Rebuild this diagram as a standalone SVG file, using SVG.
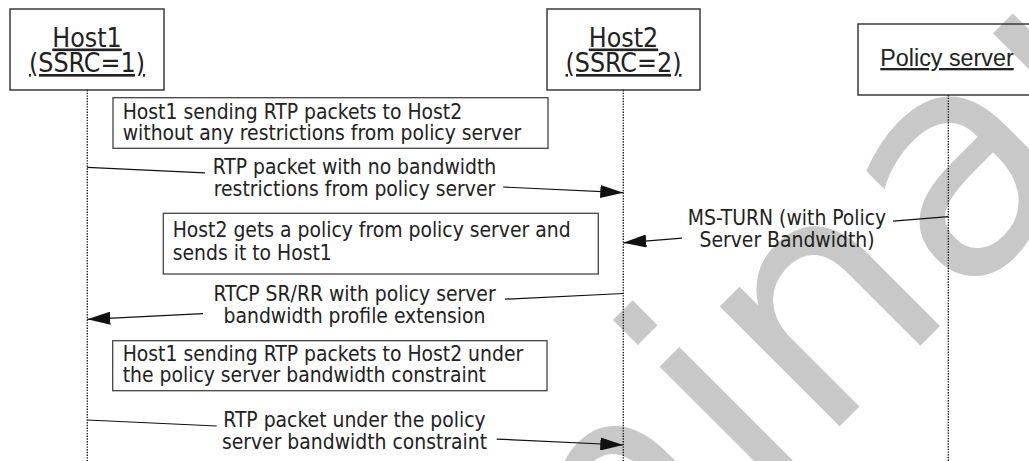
<svg xmlns="http://www.w3.org/2000/svg" width="1029" height="461" viewBox="0 0 1029 461">
<style>
.wm{font-family:"DejaVu Sans",sans-serif;font-size:310px;fill:#c8c8c8}
.box{fill:none;stroke:#3a3a3a;stroke-width:1.5}
.note{fill:none;stroke:#444;stroke-width:1.3}
.life{fill:none;stroke:#222;stroke-width:1.4;stroke-dasharray:1.4 1.3}
.msg{fill:none;stroke:#111;stroke-width:1.2}
.t{font-family:"DejaVu Sans Condensed","DejaVu Sans",sans-serif;font-stretch:condensed;font-size:20.9px;fill:#222}
.h{font-size:26.5px;text-decoration:underline}
.ps{font-family:"Liberation Sans",Arial,sans-serif;font-size:23.3px;fill:#222;text-decoration:underline}
.m{text-anchor:middle}
</style>
<defs>
<marker id="ah" markerUnits="userSpaceOnUse" markerWidth="23" markerHeight="13" refX="23" refY="6.5" orient="auto">
<path d="M0,0 L23,6.5 L0,13 z" fill="#111"/>
</marker>
</defs>
<rect width="1029" height="461" fill="#fff"/>
<text class="wm" transform="translate(75,1191) rotate(-45)">Preliminary</text>

<g id="host1">
<rect class="box" x="10" y="9" width="154" height="81"/>
<text class="t h m" x="87" y="46.5">Host1</text>
<text class="t h m" x="87" y="72">(SSRC=1)</text>
<line class="life" x1="87.3" y1="90" x2="87.3" y2="461"/>
</g>
<g id="host2">
<rect class="box" x="547" y="9" width="153" height="81"/>
<text class="t h m" x="623.5" y="46.5">Host2</text>
<text class="t h m" x="623.5" y="72">(SSRC=2)</text>
<line class="life" x1="623.3" y1="90" x2="623.3" y2="461"/>
</g>
<g id="policy">
<rect class="box" x="858" y="24" width="180" height="71"/>
<text class="ps m" x="947" y="66">Policy server</text>
<line class="life" x1="948.3" y1="95" x2="948.3" y2="461"/>
</g>

<g id="note1">
<rect class="note" x="113" y="97.7" width="435" height="50.6"/>
<text class="t" x="122.7" y="118.5">Host1 sending RTP packets to Host2</text>
<text class="t" x="122.7" y="139.5">without any restrictions from policy server</text>
</g>
<g id="note2">
<rect class="note" x="163.3" y="213.3" width="435" height="60.7"/>
<text class="t" x="172.7" y="237.3">Host2 gets a policy from policy server and</text>
<text class="t" x="172.7" y="260">sends it to Host1</text>
</g>
<g id="note3">
<rect class="note" x="112.7" y="340.7" width="434.3" height="50"/>
<text class="t" x="122.7" y="361">Host1 sending RTP packets to Host2 under</text>
<text class="t" x="122.7" y="382">the policy server bandwidth constraint</text>
</g>

<g id="connectors">
<g id="msg1">
<path class="msg" d="M87.3,167.3 L205,172.9"/>
<path class="msg" d="M503,187 L623.3,192.7" marker-end="url(#ah)"/>
<text class="t m" x="354.5" y="174">RTP packet with no bandwidth</text>
<text class="t m" x="354.5" y="196">restrictions from policy server</text>
</g>
<g id="msg2">
<path class="msg" d="M948.3,216.7 L893,221.2"/>
<path class="msg" d="M682,238.1 L623.3,242.8" marker-end="url(#ah)"/>
<text class="t m" x="787" y="224.5">MS-TURN (with Policy</text>
<text class="t m" x="787" y="246.5">Server Bandwidth)</text>
</g>
<g id="msg3">
<path class="msg" d="M623.3,293.5 L505,299.2"/>
<path class="msg" d="M203,313.7 L87.3,319.3" marker-end="url(#ah)"/>
<text class="t m" x="354.5" y="300.5">RTCP SR/RR with policy server</text>
<text class="t m" x="354.5" y="322.8">bandwidth profile extension</text>
</g>
<g id="msg4">
<path class="msg" d="M87.3,420 L216.7,426"/>
<path class="msg" d="M496.7,439.1 L623.3,445" marker-end="url(#ah)"/>
<text class="t m" x="354.5" y="427">RTP packet under the policy</text>
<text class="t m" x="354.5" y="449">server bandwidth constraint</text>
</g>
</g>
</svg>
